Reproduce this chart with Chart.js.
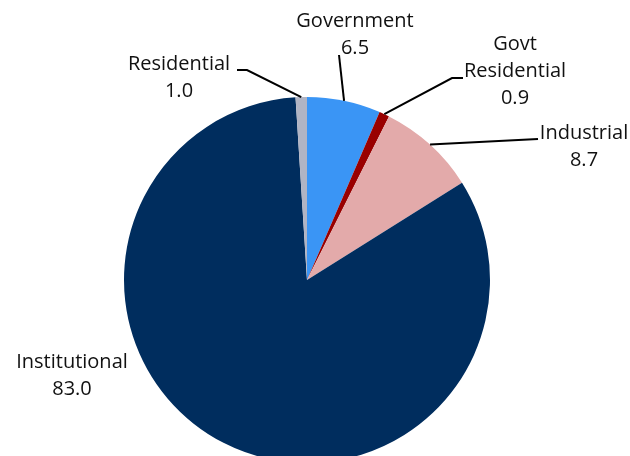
<!DOCTYPE html>
<html>
<head>
<meta charset="utf-8">
<script src="https://cdn.jsdelivr.net/npm/chart.js@4/dist/chart.umd.min.js"></script>
<style>
  html, body { margin: 0; padding: 0; background: #fff; overflow: hidden; }
  #wrap { width: 630px; height: 456px; overflow: hidden; position: relative; }
  canvas { display: block; }
</style>
</head>
<body>
<div id="wrap"><canvas id="c" width="630" height="470"></canvas></div>
<script>
// ---- data ----
const categories = ["Government", "Govt Residential", "Industrial", "Institutional", "Residential"];
const labelLines = [["Government"], ["Govt", "Residential"], ["Industrial"], ["Institutional"], ["Residential"]];
const values = [6.5, 0.9, 8.7, 83.0, 1.0];
const colors = ["#3A95F5", "#990000", "#E3AAAA", "#002D5E", "#B0B4C4"];

// ---- label layout (positions only) ----
const labelLayout = [
  { cx: 355, by: 27, path: [[339, 55]] },
  { cx: 515, by: 50, path: [[452, 78], [463, 78]] },
  { cx: 584, by: 139, path: [[538, 139]] },
  { cx: 72, by: 368, path: null },
  { cx: 179, by: 70, path: [[247, 70], [237, 70]] }
];
const lineGap = 27;

const labelPlugin = {
  id: 'pieLabels',
  afterDraw(chart) {
    const ctx = chart.ctx;
    const meta = chart.getDatasetMeta(0);
    ctx.save();
    ctx.font = '20px "Open Sans"';
    ctx.fillStyle = '#111';
    ctx.textAlign = 'center';
    ctx.textBaseline = 'alphabetic';
    meta.data.forEach((arc, i) => {
      const L = labelLayout[i];
      const lines = labelLines[i].concat([values[i].toFixed(1)]);
      lines.forEach((t, k) => ctx.fillText(t, L.cx, L.by + k * lineGap));
      if (L.path) {
        const mid = (arc.startAngle + arc.endAngle) / 2;
        const sx = arc.x + Math.cos(mid) * arc.outerRadius;
        const sy = arc.y + Math.sin(mid) * arc.outerRadius;
        ctx.beginPath();
        ctx.strokeStyle = '#000';
        ctx.lineWidth = 2;
        ctx.moveTo(sx, sy);
        L.path.forEach(p => ctx.lineTo(p[0], p[1]));
        ctx.stroke();
      }
    });
    ctx.restore();
  }
};

new Chart(document.getElementById('c'), {
  type: 'pie',
  data: {
    labels: categories,
    datasets: [{ data: values, backgroundColor: colors, borderWidth: 0 }]
  },
  options: {
    responsive: false,
    animation: false,
    layout: { padding: { left: 124, right: 140, top: 97, bottom: 7 } },
    plugins: { legend: { display: false }, tooltip: { enabled: false } }
  },
  plugins: [labelPlugin]
});
</script>
</body>
</html>
